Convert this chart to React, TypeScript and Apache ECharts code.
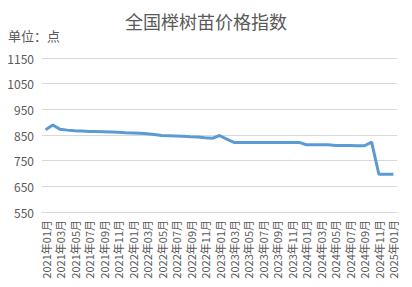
import React, { useEffect, useRef } from "react";
import * as echarts from "echarts";

const titleText = "全国榉树苗价格指数";
const unitText = "单位：点";

const months: string[] = (() => {
  const out: string[] = [];
  for (let y = 2021; y <= 2025; y++) {
    for (let m = 1; m <= 12; m++) {
      if (y === 2025 && m > 1) break;
      out.push(`${y}年${m < 10 ? "0" + m : m}月`);
    }
  }
  return out;
})();

const indexValues: number[] = [
  870, 889, 872, 869, 867, 866, 864, 864, 863, 862, 861, 859,
  858, 857, 855, 852, 848, 847, 846, 845, 843, 842, 839, 837,
  848, 834, 821, 821, 821, 821, 821, 821, 821, 821, 821, 821,
  812, 812, 812, 812, 809, 809, 809, 808, 808, 822, 697, 697,
  697,
];

const yMin = 550;
const yMax = 1150;
const yStep = 100;

export default function App() {
  const ref = useRef<HTMLDivElement>(null);
  useEffect(() => {
    if (!ref.current) return;
    const chart = echarts.init(ref.current, undefined, { renderer: "svg" });
    const font = "'Microsoft YaHei', 'Noto Sans CJK SC', sans-serif";
    chart.setOption({
      animation: false,
      backgroundColor: "#ffffff",
      title: {
        text: titleText,
        left: "center",
        top: 7,
        textStyle: { fontSize: 18, fontWeight: "normal", color: "#595959", fontFamily: font },
      },
      graphic: [
        {
          type: "text",
          left: 8,
          top: 29,
          style: { text: unitText, fontSize: 13, fill: "#595959", fontFamily: font },
        },
      ],
      grid: { left: 42, right: 15, top: 58, bottom: 75, containLabel: false },
      xAxis: {
        type: "category",
        data: months,
        boundaryGap: true,
        axisLine: { lineStyle: { color: "#d9d9d9" } },
        axisTick: { interval: 1, length: 5, lineStyle: { color: "#d9d9d9" } },
        axisLabel: {
          interval: 1,
          rotate: 90,
          fontSize: 11,
          color: "#595959",
          margin: 8,
          fontFamily: font,
        },
      },
      yAxis: {
        type: "value",
        min: yMin,
        max: yMax,
        interval: yStep,
        axisLine: { show: false },
        axisTick: { show: false },
        splitLine: { lineStyle: { color: "#d9d9d9" } },
        axisLabel: {
          fontSize: 12,
          color: "#595959",
          margin: 8,
          fontFamily: font,
          formatter: (v: number) => String(v),
        },
      },
      series: [
        {
          type: "line",
          data: indexValues,
          symbol: "none",
          lineStyle: { color: "#5B9BD5", width: 3 },
          itemStyle: { color: "#5B9BD5" },
        },
      ],
    });
    return () => chart.dispose();
  }, []);
  return <div ref={ref} style={{ width: 412, height: 287, position: "absolute", left: 0, top: 0 }} />;
}
